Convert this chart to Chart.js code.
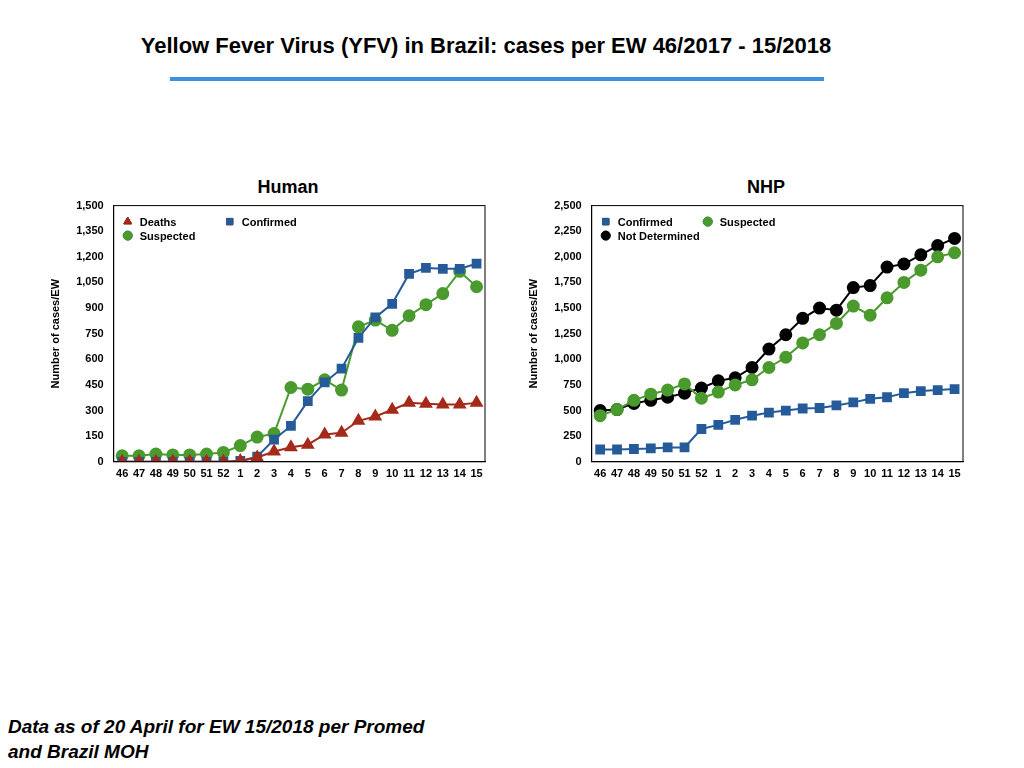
<!DOCTYPE html>
<html><head><meta charset="utf-8">
<script src="https://cdn.jsdelivr.net/npm/chart.js@4"></script>
<style>
body{margin:0;width:1024px;height:768px;background:#fff;font-family:Helvetica,"Liberation Sans",Arial,sans-serif;position:relative;overflow:hidden}
#title{position:absolute;top:33px;left:0;width:972px;text-align:center;font-size:22px;font-weight:bold}
#rule{position:absolute;top:77px;left:170px;width:654px;height:4px;background:#3d8fe0}
.box{position:absolute;top:175px;width:460px;height:320px}
.ct{position:absolute;top:2px;width:100%;text-align:center;font-weight:bold;font-size:18px}
canvas{position:absolute;top:14px;left:0}
#note{position:absolute;left:8px;top:714px;font-size:19px;font-weight:bold;font-style:italic;line-height:25px}
</style></head><body>
<div id="title">Yellow Fever Virus (YFV) in Brazil: cases per EW 46/2017 - 15/2018</div>
<div id="rule"></div>
<div class="box" style="left:40px"><div class="ct" style="left:18px">Human</div><canvas id="c1" width="460" height="298"></canvas></div>
<div class="box" style="left:518px"><div class="ct" style="left:18px">NHP</div><canvas id="c2" width="460" height="298"></canvas></div>
<div id="note">Data as of 20 April for EW 15/2018 per Promed<br>and Brazil MOH</div>
<script>
var weeks = ['46','47','48','49','50','51','52','1','2','3','4','5','6','7','8','9','10','11','12','13','14','15'];

var humanDeaths = [0,0,0,0,0,0,0,5,25,60,85,100,160,170,240,265,305,345,340,335,335,345];
var humanConfirmed = [0,0,0,0,0,0,0,5,30,130,210,355,465,545,725,845,925,1100,1135,1130,1130,1160];
var humanSuspected = [35,35,45,40,40,45,55,95,145,165,435,425,480,420,790,830,770,855,920,985,1115,1025];

var nhpConfirmed = [120,120,125,130,140,140,320,360,410,450,480,500,520,525,550,580,615,630,670,690,700,710];
var nhpSuspected = [450,510,600,660,700,760,620,680,750,800,920,1020,1160,1240,1350,1520,1430,1600,1750,1870,2000,2040];
var nhpNotDetermined = [500,510,570,600,630,670,720,790,820,920,1100,1240,1400,1500,1480,1700,1720,1900,1930,2020,2110,2180];

var RED = '#a52a1a', BLUE = '#265b9a', GREEN = '#4a9a2e', BLACK = '#000';
var font = {family: 'Helvetica, "Liberation Sans", Arial, sans-serif', weight: 'bold', size: 11};

function ds(label, data, color, style, r) {
    return {label: label, data: data, borderColor: color, backgroundColor: color,
        pointStyle: style, pointRadius: r, borderWidth: 2, tension: 0};
}

// legend drawn inside plot, two columns like the original
var boxLegend = {
    id: 'boxLegend',
    afterDraw: function(c) {
        var a = c.chartArea, x = c.ctx;
        var pos = [[a.left + 14, a.top + 16], [a.left + 116, a.top + 16], [a.left + 14, a.top + 30]];
        x.save();
        x.font = 'bold 11px Helvetica, "Liberation Sans", Arial, sans-serif';
        x.textBaseline = 'middle';
        c.data.datasets.forEach(function(d, i) {
            var p = pos[i];
            Chart.helpers.drawPoint(x, {pointStyle: d.pointStyle, radius: 4.5, borderWidth: 1,
                rotation: 0}, p[0], p[1]);
            x.fillStyle = d.backgroundColor; x.strokeStyle = d.borderColor;
            Chart.helpers.drawPoint(x, {pointStyle: d.pointStyle, radius: 4.5, borderWidth: 1}, p[0], p[1]);
            x.fillStyle = '#000';
            x.fillText(d.label, p[0] + 12, p[1] + 1);
        });
        var frame = c.chartArea;
        x.strokeStyle = '#000'; x.lineWidth = 1;
        x.strokeRect(frame.left, frame.top, frame.right - frame.left, frame.bottom - frame.top);
        x.restore();
    }
};

function makeChart(id, datasets, max, step) {
    new Chart(document.getElementById(id), {
        type: 'line',
        data: {labels: weeks, datasets: datasets},
        options: {
            responsive: false, animation: false,
            layout: {padding: {right: 15, left: 5, top: 4}},
            plugins: {legend: {display: false}, tooltip: {enabled: false}},
            scales: {
                x: {offset: true, grid: {display: false, drawTicks: false}, border: {color: '#000'},
                    ticks: {color: '#000', font: font, autoSkip: false, maxRotation: 0, padding: 6}},
                y: {min: 0, max: max, grid: {display: false, drawTicks: false}, border: {color: '#000'},
                    ticks: {stepSize: step, color: '#000', font: font, padding: 10},
                    title: {display: true, text: 'Number of cases/EW', color: '#000', font: font}}
            }
        },
        plugins: [boxLegend]
    });
}

makeChart('c1', [
    ds('Deaths', humanDeaths, RED, 'triangle', 6),
    ds('Confirmed', humanConfirmed, BLUE, 'rect', 5.5),
    ds('Suspected', humanSuspected, GREEN, 'circle', 5.5)
], 1500, 150);

makeChart('c2', [
    ds('Confirmed', nhpConfirmed, BLUE, 'rect', 5.5),
    ds('Suspected', nhpSuspected, GREEN, 'circle', 5.5),
    ds('Not Determined', nhpNotDetermined, BLACK, 'circle', 5.5)
], 2500, 250);
</script>
</body></html>
